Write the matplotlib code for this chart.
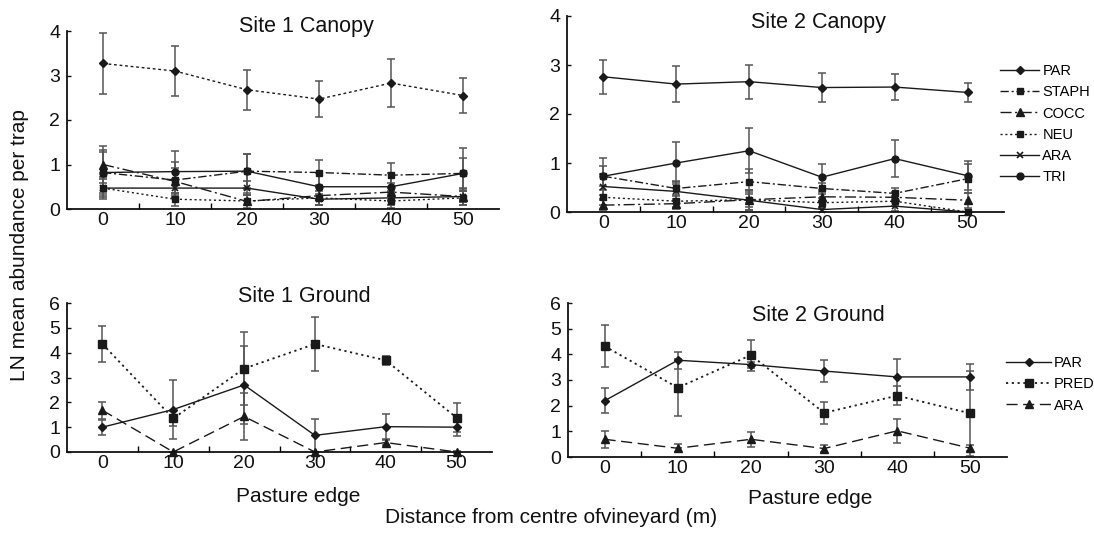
import matplotlib
matplotlib.use("Agg")
import matplotlib.pyplot as plt
from matplotlib.lines import Line2D

plt.rcParams['font.family'] = ['Liberation Sans', 'DejaVu Sans']

W, H = 1094, 534

# ---------------- data ----------------
distance = [0, 10, 20, 30, 40, 50]
tick_labels = ['0', '10', '20', '30', '40', '50']

canopy_taxa = ['PAR', 'STAPH', 'COCC', 'NEU', 'ARA', 'TRI']
ground_taxa = ['PAR', 'PRED', 'ARA']

# Site 1 canopy
s1c_par = [3.27, 3.10, 2.68, 2.47, 2.83, 2.55]
s1c_par_err = [0.68, 0.56, 0.45, 0.40, 0.54, 0.39]
s1c_staph = [0.82, 0.65, 0.85, 0.82, 0.76, 0.80]
s1c_staph_err = [0.45, 0.40, 0.38, 0.28, 0.28, 0.35]
s1c_cocc = [1.00, 0.62, 0.17, 0.30, 0.38, 0.28]
s1c_cocc_err = [0.41, 0.30, 0.15, 0.20, 0.20, 0.20]
s1c_neu = [0.47, 0.22, 0.18, 0.25, 0.18, 0.25]
s1c_neu_err = [0.25, 0.15, 0.18, 0.15, 0.15, 0.15]
s1c_ara = [0.47, 0.47, 0.47, 0.22, 0.25, 0.28]
s1c_ara_err = [0.20, 0.20, 0.15, 0.12, 0.15, 0.12]
s1c_tri = [0.82, 0.84, 0.85, 0.50, 0.50, 0.80]
s1c_tri_err = [0.50, 0.47, 0.39, 0.30, 0.30, 0.58]

# Site 2 canopy
s2c_par = [2.76, 2.61, 2.66, 2.54, 2.55, 2.44]
s2c_par_err = [0.35, 0.37, 0.35, 0.30, 0.26, 0.20]
s2c_staph = [0.73, 0.48, 0.62, 0.48, 0.38, 0.68]
s2c_staph_err = [0.20, 0.15, 0.25, 0.12, 0.12, 0.30]
s2c_cocc = [0.14, 0.17, 0.25, 0.31, 0.30, 0.24]
s2c_cocc_err = [0.10, 0.10, 0.15, 0.10, 0.10, 0.15]
s2c_neu = [0.30, 0.22, 0.25, 0.19, 0.22, 0.00]
s2c_neu_err = [0.15, 0.12, 0.20, 0.10, 0.10, 0.00]
s2c_ara = [0.52, 0.42, 0.24, 0.05, 0.12, 0.00]
s2c_ara_err = [0.25, 0.20, 0.20, 0.05, 0.10, 0.00]
s2c_tri = [0.73, 1.00, 1.25, 0.71, 1.09, 0.74]
s2c_tri_err = [0.38, 0.42, 0.46, 0.26, 0.37, 0.30]

# Site 1 ground
s1g_par = [1.00, 1.71, 2.70, 0.67, 1.02, 1.00]
s1g_par_err = [0.30, 1.20, 1.57, 0.65, 0.50, 0.35]
s1g_pred = [4.35, 1.35, 3.36, 4.35, 3.69, 1.38]
s1g_pred_err = [0.72, 0.30, 1.47, 1.10, 0.17, 0.58]
s1g_ara = [1.68, 0.00, 1.43, 0.00, 0.38, 0.00]
s1g_ara_err = [0.35, 0.00, 0.93, 0.00, 0.10, 0.05]

# Site 2 ground
s2g_par = [2.19, 3.77, 3.60, 3.35, 3.12, 3.12]
s2g_par_err = [0.49, 0.34, 0.12, 0.44, 0.68, 0.52]
s2g_pred = [4.32, 2.70, 3.97, 1.72, 2.39, 1.70]
s2g_pred_err = [0.83, 1.10, 0.60, 0.42, 0.38, 1.65]
s2g_ara = [0.69, 0.34, 0.69, 0.33, 1.02, 0.34]
s2g_ara_err = [0.33, 0.15, 0.30, 0.13, 0.48, 0.12]

# ---------------- styles ----------------
LC = '#1a1a1a'
EC = '#555555'
sty = {
    'PAR': dict(ls='-', marker='D', ms=4.5),
    'PAR_dot': dict(ls=(0, (2, 2)), marker='D', ms=4.5),
    'STAPH': dict(ls=(0, (6, 2, 1.5, 2)), marker='s', ms=5),
    'COCC': dict(ls=(0, (8, 2.5, 1.5, 2.5)), marker='^', ms=5.5),
    'NEU': dict(ls=(0, (1.5, 2)), marker='s', ms=5),
    'ARA': dict(ls='-', marker='x', ms=5, mew=1.2),
    'TRI': dict(ls='-', marker='o', ms=5),
    'PRED': dict(ls=(0, (1.2, 2)), marker='s', ms=6, lw=1.3),
    'ARA_g': dict(ls=(0, (8, 4)), marker='^', ms=6),
}


def px_axes(l, r, t, b):
    return [l / W, 1 - b / H, (r - l) / W, (b - t) / H]


fig = plt.figure(figsize=(W / 100, H / 100), dpi=100)


def setup(ax, ymax):
    ax.set_xlim(-5, 55)
    ax.set_ylim(0, ymax)
    for s in ['top', 'right']:
        ax.spines[s].set_visible(False)
    for s in ['left', 'bottom']:
        ax.spines[s].set_linewidth(1.3)
        ax.spines[s].set_color('#111111')
    ax.set_xticks(distance)
    ax.set_xticklabels(tick_labels)
    ax.set_xticks([5, 15, 25, 35, 45], minor=True)
    ax.tick_params(axis='x', which='major', length=0, pad=2, labelsize=14)
    ax.tick_params(axis='x', which='minor', direction='in', length=4, width=1)
    ax.set_yticks(range(0, ymax + 1))
    ax.tick_params(axis='y', which='major', direction='in', length=3,
                   width=1, pad=5, labelsize=14)
    ax.tick_params(colors='#111111')


def series(ax, y, err, key, label):
    kw = dict(sty[key])
    lw = kw.pop('lw', 1.0)
    ax.errorbar(distance, y, yerr=err, color=LC, ecolor=EC, elinewidth=1.1,
                capsize=3, capthick=1.1, lw=lw, mfc=LC, mec=LC,
                label=label, clip_on=False, **kw)


ax1 = fig.add_axes(px_axes(67, 499, 31, 209))
setup(ax1, 4)
series(ax1, s1c_par, s1c_par_err, 'PAR_dot', 'PAR')
series(ax1, s1c_staph, s1c_staph_err, 'STAPH', 'STAPH')
series(ax1, s1c_cocc, s1c_cocc_err, 'COCC', 'COCC')
series(ax1, s1c_neu, s1c_neu_err, 'NEU', 'NEU')
series(ax1, s1c_ara, s1c_ara_err, 'ARA', 'ARA')
series(ax1, s1c_tri, s1c_tri_err, 'TRI', 'TRI')

ax2 = fig.add_axes(px_axes(567, 1004, 16, 212))
setup(ax2, 4)
series(ax2, s2c_par, s2c_par_err, 'PAR', 'PAR')
series(ax2, s2c_staph, s2c_staph_err, 'STAPH', 'STAPH')
series(ax2, s2c_cocc, s2c_cocc_err, 'COCC', 'COCC')
series(ax2, s2c_neu, s2c_neu_err, 'NEU', 'NEU')
series(ax2, s2c_ara, s2c_ara_err, 'ARA', 'ARA')
series(ax2, s2c_tri, s2c_tri_err, 'TRI', 'TRI')

ax3 = fig.add_axes(px_axes(67, 492, 303, 452))
setup(ax3, 6)
series(ax3, s1g_par, s1g_par_err, 'PAR', 'PAR')
series(ax3, s1g_pred, s1g_pred_err, 'PRED', 'PRED')
series(ax3, s1g_ara, s1g_ara_err, 'ARA_g', 'ARA')

ax4 = fig.add_axes(px_axes(568, 1007, 303, 457))
setup(ax4, 6)
series(ax4, s2g_par, s2g_par_err, 'PAR', 'PAR')
series(ax4, s2g_pred, s2g_pred_err, 'PRED', 'PRED')
series(ax4, s2g_ara, s2g_ara_err, 'ARA_g', 'ARA')


def legend_handles(keys):
    hs = []
    for k in keys:
        kw = dict(sty[k])
        lw = kw.pop('lw', 1.0)
        hs.append(Line2D([], [], color=LC, lw=lw, mfc=LC, mec=LC, **kw))
    return hs


fig.legend(legend_handles(['PAR', 'STAPH', 'COCC', 'NEU', 'ARA', 'TRI']),
           canopy_taxa, loc='upper left',
           bbox_to_anchor=(1000 / W, 1 - 64 / H), frameon=False,
           fontsize=10.5, handlelength=2.7, handletextpad=0.2,
           labelspacing=0.5, numpoints=1, borderaxespad=0, borderpad=0)
fig.legend(legend_handles(['PAR', 'PRED', 'ARA_g']),
           ground_taxa, loc='upper left',
           bbox_to_anchor=(1006 / W, 1 - 356 / H), frameon=False,
           fontsize=10.5, handlelength=3.1, handletextpad=0.2,
           labelspacing=0.5, numpoints=1, borderaxespad=0, borderpad=0)


def ftext(x, y, s, size, **kw):
    fig.text(x / W, 1 - y / H, s, fontsize=size, color='#111111', **kw)


ftext(306, 32, 'Site 1 Canopy', 15.5, ha='center', va='baseline')
ftext(818, 28, 'Site 2 Canopy', 15.5, ha='center', va='baseline')
ftext(304, 302, 'Site 1 Ground', 15.5, ha='center', va='baseline')
ftext(818, 321, 'Site 2 Ground', 15.5, ha='center', va='baseline')
ftext(298, 502, 'Pasture edge', 15, ha='center', va='baseline')
ftext(810, 504, 'Pasture edge', 15, ha='center', va='baseline')
ftext(551, 523, 'Distance from centre ofvineyard (m)', 15, ha='center',
      va='baseline')
ftext(20, 245, 'LN mean abundance per trap', 15, ha='center', va='center',
      rotation=90)

fig.savefig('out.png', dpi=100)
